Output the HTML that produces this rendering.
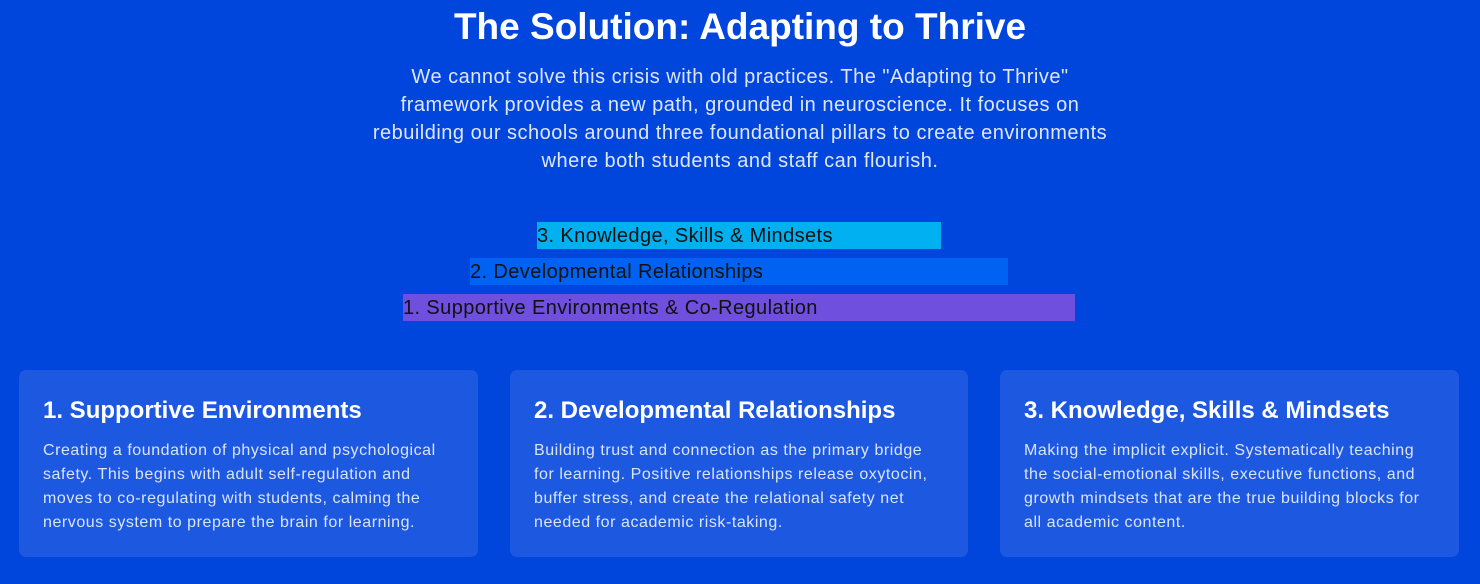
<!DOCTYPE html>
<html><head><style>
body{margin:0;width:1480px;height:584px;background:#0046dd;font-family:"Liberation Sans",sans-serif;overflow:hidden;position:relative;color:#fff}
h1{position:absolute;top:4px;left:0;width:1480px;text-align:center;margin:0;font-size:37px;line-height:46px;font-weight:bold}
.p{position:absolute;top:63px;left:240px;width:1000px;text-align:center;font-size:20px;letter-spacing:0.5px;line-height:28px;color:#dfe6ff}
.bar{position:absolute;height:27px;color:#111;font-size:20px;letter-spacing:0.4px;line-height:29px;white-space:nowrap}
.card{position:absolute;top:370px;width:459px;height:187px;background:#1c58e0;border-radius:7px}
.card h2{margin:0;position:absolute;left:24px;top:27px;font-size:24px;line-height:28px;font-weight:bold;white-space:nowrap}
.card p{margin:0;position:absolute;left:24px;top:69px;width:430px;font-size:16px;letter-spacing:0.55px;line-height:24px;color:#dbe4ff;white-space:nowrap}
</style></head><body>
<h1>The Solution: Adapting to Thrive</h1>
<div class="p">We cannot solve this crisis with old practices. The "Adapting to Thrive"<br>framework provides a new path, grounded in neuroscience. It focuses on<br>rebuilding our schools around three foundational pillars to create environments<br>where both students and staff can flourish.</div>
<div class="bar" style="left:537px;top:222px;width:404px;background:#00b0f0">3. Knowledge, Skills &amp; Mindsets</div>
<div class="bar" style="left:470px;top:258px;width:538px;background:#0062f2">2. Developmental Relationships</div>
<div class="bar" style="left:403px;top:294px;width:672px;background:#6e4fde">1. Supportive Environments &amp; Co-Regulation</div>
<div class="card" style="left:19px"><h2>1. Supportive Environments</h2><p>Creating a foundation of physical and psychological<br>safety. This begins with adult self-regulation and<br>moves to co-regulating with students, calming the<br>nervous system to prepare the brain for learning.</p></div>
<div class="card" style="left:510px;width:458px"><h2>2. Developmental Relationships</h2><p>Building trust and connection as the primary bridge<br>for learning. Positive relationships release oxytocin,<br>buffer stress, and create the relational safety net<br>needed for academic risk-taking.</p></div>
<div class="card" style="left:1000px"><h2>3. Knowledge, Skills &amp; Mindsets</h2><p>Making the implicit explicit. Systematically teaching<br>the social-emotional skills, executive functions, and<br>growth mindsets that are the true building blocks for<br>all academic content.</p></div>
</body></html>
